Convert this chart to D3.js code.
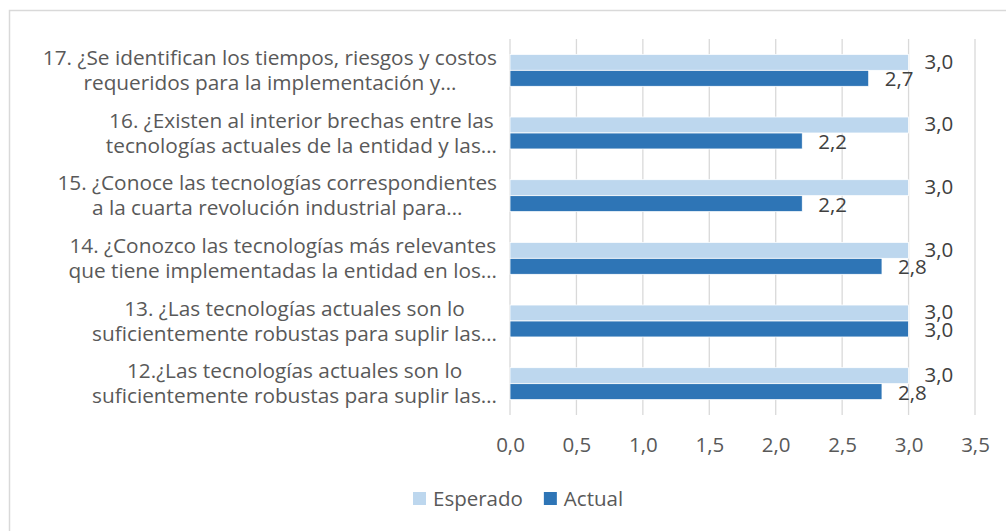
<!DOCTYPE html>
<html>
<head>
<meta charset="utf-8">
<script src="https://cdn.jsdelivr.net/npm/d3@7"></script>
<style>
  body { margin: 0; background: #fff; }
  svg text { font-family: "Open Sans", "Noto Sans", sans-serif; }
</style>
</head>
<body>
<div id="chart"></div>
<script>
// categories, top to bottom, each split in two lines as in the chart
var categories = [
    ["17. ¿Se identifican los tiempos, riesgos y costos", "requeridos para la implementación y…"],
    ["16. ¿Existen al interior brechas entre las", "tecnologías actuales de la entidad y las…"],
    ["15. ¿Conoce las tecnologías correspondientes", "a la cuarta revolución industrial para…"],
    ["14. ¿Conozco las tecnologías más relevantes", "que tiene implementadas la entidad en los…"],
    ["13. ¿Las tecnologías actuales son lo", "suficientemente robustas para suplir las…"],
    ["12.¿Las tecnologías actuales son lo", "suficientemente robustas para suplir las…"]
];
var esperado = [3.0, 3.0, 3.0, 3.0, 3.0, 3.0];
var actual = [2.7, 2.2, 2.2, 2.8, 3.0, 2.8];
var seriesNames = ["Esperado", "Actual"];
var xTicks = [0, 0.5, 1, 1.5, 2, 2.5, 3, 3.5];

var width = 1006, height = 531;
var colors = ["#BDD7EE", "#2E75B6"];
var plot = {left: 510, right: 975, top: 39, bottom: 415};
var fontSize = "20.5px";

var svg = d3.select("#chart").append("svg")
    .attr("width", width)
    .attr("height", height);

// chart frame (cut on right and bottom like the picture)
svg.append("rect")
    .attr("x", 9.5).attr("y", 10.5)
    .attr("width", 1010).attr("height", 540)
    .attr("fill", "none")
    .attr("stroke", "#d9d9d9")
    .attr("stroke-width", 1.5);

var x = d3.scaleLinear().domain([0, 3.5]).range([plot.left, plot.right]);
var y = d3.scaleBand()
    .domain(d3.range(categories.length))
    .range([plot.top, plot.bottom])
    .paddingInner(0.49)
    .paddingOuter(0.245);
var sub = d3.scaleBand().domain([0, 1]).range([0, y.bandwidth()]);

// gridlines
svg.append("g").selectAll("line")
    .data(xTicks)
    .enter().append("line")
    .attr("x1", function (d) { return x(d); })
    .attr("x2", function (d) { return x(d); })
    .attr("y1", plot.top)
    .attr("y2", plot.bottom)
    .attr("stroke", "#d9d9d9")
    .attr("stroke-width", 1.3);

// x axis labels
var xAxis = d3.axisBottom(x)
    .tickValues(xTicks)
    .tickSize(0)
    .tickPadding(0)
    .tickFormat(function (d) { return d3.format(".1f")(d).replace(".", ","); });
var gx = svg.append("g")
    .attr("transform", "translate(0," + 437 + ")")
    .call(xAxis);
gx.select(".domain").remove();
gx.selectAll("text")
    .attr("fill", "#595959")
    .style("font-size", fontSize);

var series = [esperado, actual];

series.forEach(function (vals, s) {
    svg.append("g").selectAll("rect")
        .data(vals)
        .enter().append("rect")
        .attr("x", x(0))
        .attr("y", function (d, i) { return y(i) + sub(s); })
        .attr("width", function (d) { return x(d) - x(0); })
        .attr("height", sub.bandwidth())
        .attr("fill", colors[s])
        .attr("stroke", "#fff")
        .attr("stroke-width", 0.8);

    svg.append("g").selectAll("text")
        .data(vals)
        .enter().append("text")
        .attr("x", function (d) { return x(d) + 16; })
        .attr("y", function (d, i) { return y(i) + sub(s) + sub.bandwidth() / 2 + (s === 0 ? -1 : 1); })
        .attr("dy", "0.35em")
        .attr("fill", "#404040")
        .style("font-size", fontSize)
        .text(function (d) { return d3.format(".1f")(d).replace(".", ","); });
});

// category labels: lines centred on each other, block right aligned
var labelRight = 497;
categories.forEach(function (lines, i) {
    var g = svg.append("g");
    var texts = g.selectAll("text")
        .data(lines)
        .enter().append("text")
        .attr("y", function (d, k) { return y(i) + y.bandwidth() / 2 + (k - 0.5) * 25; })
        .attr("dy", "0.35em")
        .attr("text-anchor", "middle")
        .attr("fill", "#595959")
        .style("font-size", "20.8px")
        .text(function (d) { return d; });
    var maxW = d3.max(texts.nodes(), function (n) { return n.getComputedTextLength(); });
    texts.attr("x", labelRight - maxW / 2);
});

// legend
var legend = svg.append("g");
var lx = 413;
seriesNames.forEach(function (name, s) {
    legend.append("rect")
        .attr("x", lx).attr("y", 492)
        .attr("width", 13).attr("height", 13)
        .attr("fill", colors[s]);
    var t = legend.append("text")
        .attr("x", lx + 20).attr("y", 498.5)
        .attr("dy", "0.35em")
        .attr("fill", "#595959")
        .style("font-size", fontSize)
        .text(name);
    lx += 20 + t.node().getComputedTextLength() + 21;
});
</script>
</body>
</html>
